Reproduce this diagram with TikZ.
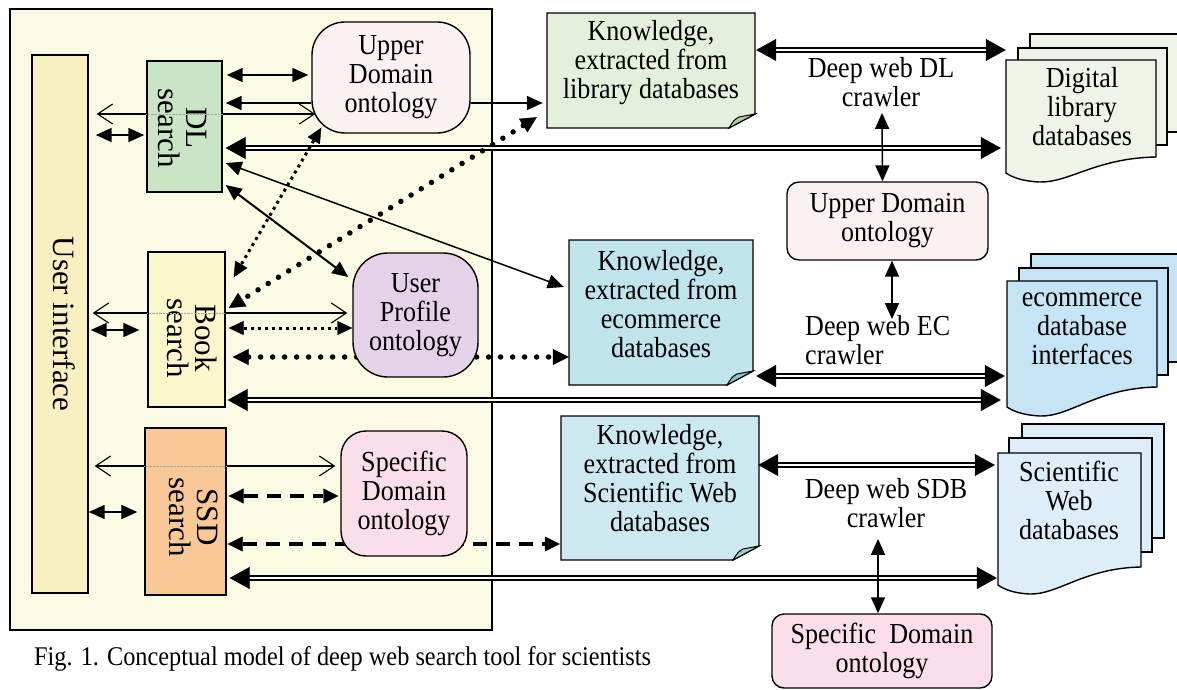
\documentclass[tikz,border=0pt]{standalone}
\usepackage{fontspec}
\setmainfont{Liberation Serif}[FakeStretch=0.9]
\newfontfamily\rotf{Liberation Serif}
\usetikzlibrary{arrows.meta,calc}
\pgfdeclarelayer{bg}
\pgfdeclarelayer{mid}
\pgfsetlayers{bg,mid,main}

\definecolor{framec}{HTML}{FBFAE4}
\definecolor{uic}{HTML}{F9F0C2}
\definecolor{dlc}{HTML}{C9E5C5}
\definecolor{bookc}{HTML}{FBF7CB}
\definecolor{ssdc}{HTML}{F8C896}
\definecolor{upc}{HTML}{FCF1F1}
\definecolor{profc}{HTML}{E4D3E8}
\definecolor{specc}{HTML}{FADFEA}
\definecolor{klibc}{HTML}{E4EFDC}
\definecolor{kecc}{HTML}{BFE4EB}
\definecolor{kscic}{HTML}{CDE9F0}
\definecolor{klibf}{HTML}{B2CBAA}
\definecolor{kecf}{HTML}{8FC3CC}
\definecolor{kscif}{HTML}{9DCAD3}
\definecolor{dldc}{HTML}{EEF5E8}
\definecolor{ecdc}{HTML}{C5E5F6}
\definecolor{scidc}{HTML}{DEEEF9}

\newcommand{\kshape}[6]{%
  \filldraw[fill=#1, line width=1.4pt] (#3,#4) -- (#5,#4) -- (#5,{#6-14}) -- ({#5-26},#6) -- (#3,#6) -- cycle;
  \filldraw[fill=#2, line width=1pt] (#5,{#6-14}) -- ({#5-26},#6) .. controls ({#5-21},{#6-8}) .. ({#5-16},{#6-11}) -- cycle;}
\newcommand{\dpage}[5]{\filldraw[fill=#1, line width=1.4pt] (#2,#3) rectangle (#4,#5);}
\newcommand{\dfront}[6]{%
  \filldraw[fill=#1, line width=1.4pt] (#2,#3) -- (#4,#3) -- (#4,#6)
   .. controls ({#2+0.6*(#4-#2)},{#6+1}) and ({#2+0.42*(#4-#2)},{#5+10}) .. ({#2+0.22*(#4-#2)},{#5+9})
   .. controls ({#2+0.1*(#4-#2)},{#5+8}) and ({#2+0.04*(#4-#2)},{#5+4}) .. (#2,#5) -- cycle;}
\newcommand{\dblconn}[2]{\draw[dblline] #1 -- #2; \draw[dbltip] #1 -- #2;}

\tikzset{
  box/.style={draw, line width=1.4pt, inner sep=0pt, align=center},
  txt/.style={align=center, inner sep=0pt},
  rtxt/.style={align=center, inner sep=0pt, rotate=-90, font=\rotf\fontsize{31}{28}\selectfont},
  a2/.style={line width=1.5pt, {Triangle[length=16pt,width=14pt]}-{Triangle[length=16pt,width=14pt]}},
  a1/.style={line width=1.5pt, -{Triangle[length=16pt,width=14pt]}},
  aopen/.style={line width=1.1pt, {Straight Barb[length=15pt,width=20pt]}-{Straight Barb[length=15pt,width=20pt]}},
  fdot/.style={line width=3pt, line cap=butt, dash pattern=on 3pt off 4pt,
    {Triangle[length=15pt,width=14pt,line width=0.4pt]}-{Triangle[length=15pt,width=14pt,line width=0.4pt]}},
  bdot/.style={line width=5.5pt, line cap=round, dash pattern=on 0pt off 12pt,
    {Triangle[length=16pt,width=16pt,line width=0.4pt]}-{Triangle[length=16pt,width=16pt,line width=0.4pt]}},
  dsh/.style={line width=3.8pt, dash pattern=on 14pt off 9pt,
    {Triangle[length=15pt,width=15pt,line width=0.4pt]}-{Triangle[length=15pt,width=15pt,line width=0.4pt]}},
  dblline/.style={double, double distance=2.6pt, line width=1.4pt, shorten <=12pt, shorten >=12pt},
  dbltip/.style={white, line width=0.5pt,
    {Triangle[length=20pt,width=22pt,color=black]}-{Triangle[length=20pt,width=22pt,color=black]}},
  faint/.style={gray!70, line width=0.4pt, densely dotted}
}

\begin{document}
\begin{tikzpicture}[x=1pt,y=-1pt, font=\fontsize{29}{29}\selectfont]
\useasboundingbox (0,0) rectangle (1177,690);

% ---- left group boxes
\node[box, fill=uic, minimum width=56pt, minimum height=538pt] (ui) at (60,324) {};
\node[rtxt, font=\rotf\fontsize{31}{30}\selectfont] (uit) at (64,324) {User interface};
\node[box, fill=dlc, minimum width=75pt, minimum height=131pt] (dl) at (184.5,126.5) {};
\node[rtxt] (dlt) at (182,128) {DL\\search};
\node[box, fill=bookc, minimum width=77pt, minimum height=155pt] (book) at (186.5,329.5) {};
\node[rtxt] (bookt) at (192,338) {Book\\search};
\node[box, fill=ssdc, minimum width=81pt, minimum height=167pt] (ssd) at (185.5,511.5) {};
\node[rtxt] (ssdt) at (194,517) {SSD\\search};

\node[box, rounded corners=33pt, fill=upc, minimum width=158pt, minimum height=111pt] (upper) at (391,77.5) {Upper\\Domain\\ontology};
\node[box, rounded corners=35pt, fill=profc, minimum width=125pt, minimum height=124pt] (prof) at (415.5,315) {User\\Profile\\ontology};
\node[box, rounded corners=25pt, fill=specc, minimum width=126pt, minimum height=125pt] (spec) at (404,493.5) {Specific\\Domain\\ontology};

% ---- right side
\node[box, rounded corners=12pt, fill=upc, minimum width=201pt, minimum height=78pt] (up2) at (887.5,221) {Upper Domain\\ontology};
\node[box, rounded corners=12pt, fill=specc, minimum width=220pt, minimum height=74pt] (sp2) at (882,651) {Specific~~Domain\\ontology};

\node[txt] (dlcr) at (881,82) {Deep web DL\\crawler};
\node[txt, align=left, anchor=west] (eccr) at (805,340) {Deep web EC\\crawler};
\node[txt] (sdbcr) at (886,503) {Deep web SDB\\crawler};

% knowledge boxes (anchors + text)
\node[inner sep=0pt, minimum width=208pt, minimum height=115pt] (klib) at (651,70.5) {};
\node[txt] (klibt) at (651,63) {Knowledge,\\extracted from\\library databases};
\node[inner sep=0pt, minimum width=184pt, minimum height=145pt] (kec) at (661,312.5) {};
\node[txt] (kect) at (661,304) {Knowledge,\\extracted from\\ecommerce\\databases};
\node[inner sep=0pt, minimum width=198pt, minimum height=144pt] (ksci) at (660,488) {};
\node[txt] (kscit) at (660,478) {Knowledge,\\extracted from\\Scientific Web\\databases};

% document stacks (anchors + text)
\node[inner sep=0pt, minimum width=150pt, minimum height=113pt] (dldoc) at (1081,116.5) {};
\node[txt] (dldoct) at (1082,107) {Digital\\library\\databases};
\node[inner sep=0pt, minimum width=150pt, minimum height=126pt] (ecdoc) at (1082,344) {};
\node[txt] (ecdoct) at (1082,329) {ecommerce\\database\\interfaces};
\node[inner sep=0pt, minimum width=143pt, minimum height=132pt] (scidoc) at (1069.5,519) {};
\node[txt] (scidoct) at (1069,500) {Scientific\\Web\\databases};

\node[anchor=base west, inner sep=0pt, font=\fontsize{27}{29}\selectfont] (cap) at (34,665) {Fig. 1. Conceptual model of deep web search tool for scientists};

% ---- background shapes
\begin{pgfonlayer}{bg}
  \filldraw[fill=framec, line width=1.5pt] (10,9) rectangle (492,630);
  \kshape{klibc}{klibf}{547}{13}{755}{128}
  \kshape{kecc}{kecf}{569}{240}{753}{385}
  \kshape{kscic}{kscif}{561}{416}{759}{560}
  \dpage{dldc}{1030}{34}{1185}{132}
  \dpage{dldc}{1018}{48}{1167}{145}
  \dfront{dldc}{1006}{60}{1156}{173}{157}
  \dpage{ecdc}{1031}{254}{1185}{362}
  \dpage{ecdc}{1019}{268}{1168}{375}
  \dfront{ecdc}{1007}{281}{1157}{407}{387}
  \dpage{scidc}{1022}{424}{1164}{538}
  \dpage{scidc}{1009}{438}{1152}{552}
  \dfront{scidc}{998}{453}{1141}{585}{567}
\end{pgfonlayer}

% ---- connectors passing behind boxes
\begin{pgfonlayer}{mid}
  \draw[aopen] ($(ui.east|-0,114)+(8,0)$) -- ($(upper.west|-0,114)+(4,0)$);
  \draw[aopen] ($(ui.east|-0,313)+(4,0)$) -- ($(prof.west|-0,313)+(-5,0)$);
  \draw[aopen] ($(ui.east|-0,466)+(6,0)$) -- ($(spec.west|-0,466)+(-5,0)$);
  \draw[bdot] ($(book.east|-0,357)+(7,0)$) -- (kec.west|-0,357);
  \draw[dsh] ($(ssd.east|-0,544)+(1,0)$) -- ($(ksci.west|-0,544)+(-1,0)$);
\end{pgfonlayer}
\draw[faint] (dl.west|-0,114) -- (dl.east|-0,114);
\draw[faint] (book.west|-0,313) -- (book.east|-0,313);
\draw[faint] (ssd.west|-0,466) -- (ssd.east|-0,466);

% ---- DL search connectors
\draw[a2] ($(dl.east|-0,75)+(4,0)$) -- ($(upper.west|-0,75)+(-3,0)$);
\draw[a1] (upper.west|-0,103) -- ($(dl.east|-0,103)+(3,0)$);
\draw[a1] (upper.east|-0,103) -- ($(klib.west|-0,103)+(-4,0)$);
\draw[a2] ($(ui.east|-0,135)+(7,0)$) -- ($(dl.west|-0,135)+(-2,0)$);
\dblconn{($(dl.east|-0,148)+(3,0)$)}{($(dldoc.west|-0,148)+(-5,0)$)}
\draw[a2] ($(dl.east|-0,163)+(3,0)$) -- ($(kec.west|-0,287)+(-5,0)$);
\draw[a2, line width=2pt] ($(dl.east|-0,185)+(3,0)$) -- ($(prof.west|-0,277)+(-4,0)$);
\draw[fdot] ($(upper.south west)+(10,-6)$) -- ($(book.north east)+(8,26)$);
\draw[bdot] ($(klib.south west)+(-10,-11)$) -- ($(book.east|-0,308)+(3,0)$);

% ---- Book search connectors
\draw[a2] ($(ui.east|-0,330)+(2,0)$) -- ($(book.west|-0,330)+(-8,0)$);
\draw[fdot] ($(book.east|-0,328)+(3,0)$) -- (prof.west|-0,328);
\dblconn{($(book.east|-0,400)+(2,0)$)}{($(ecdoc.west|-0,400)+(-6,0)$)}

% ---- SSD search connectors
\draw[a2] (ui.east|-0,512) -- ($(ssd.west|-0,512)+(-7,0)$);
\draw[dsh] ($(ssd.east|-0,496)+(2,0)$) -- ($(spec.west|-0,496)+(-2,0)$);
\dblconn{($(ssd.east|-0,578)+(3,0)$)}{($(scidoc.west|-0,578)+(-1,0)$)}

% ---- crawler connectors
\dblconn{($(klib.east|-0,50)+(1,0)$)}{(dldoc.west|-0,50)}
\draw[a2] ($(dlcr.south)+(1,6)$) -- ($(up2.north)+(-5,0)$);
\dblconn{($(kec.east|-0,376)+(3,0)$)}{($(ecdoc.west|-0,376)+(-2,0)$)}
\draw[a2] ($(up2.south)+(4.5,0)$) -- ($(eccr.north west)+(87,4)$);
\dblconn{($(ksci.east|-0,465)+(-1,0)$)}{($(scidoc.west|-0,465)+(-3,0)$)}
\draw[a2] ($(sdbcr.south)+(-8,11)$) -- ($(sp2.north)+(-4,0)$);
\end{tikzpicture}
\end{document}
